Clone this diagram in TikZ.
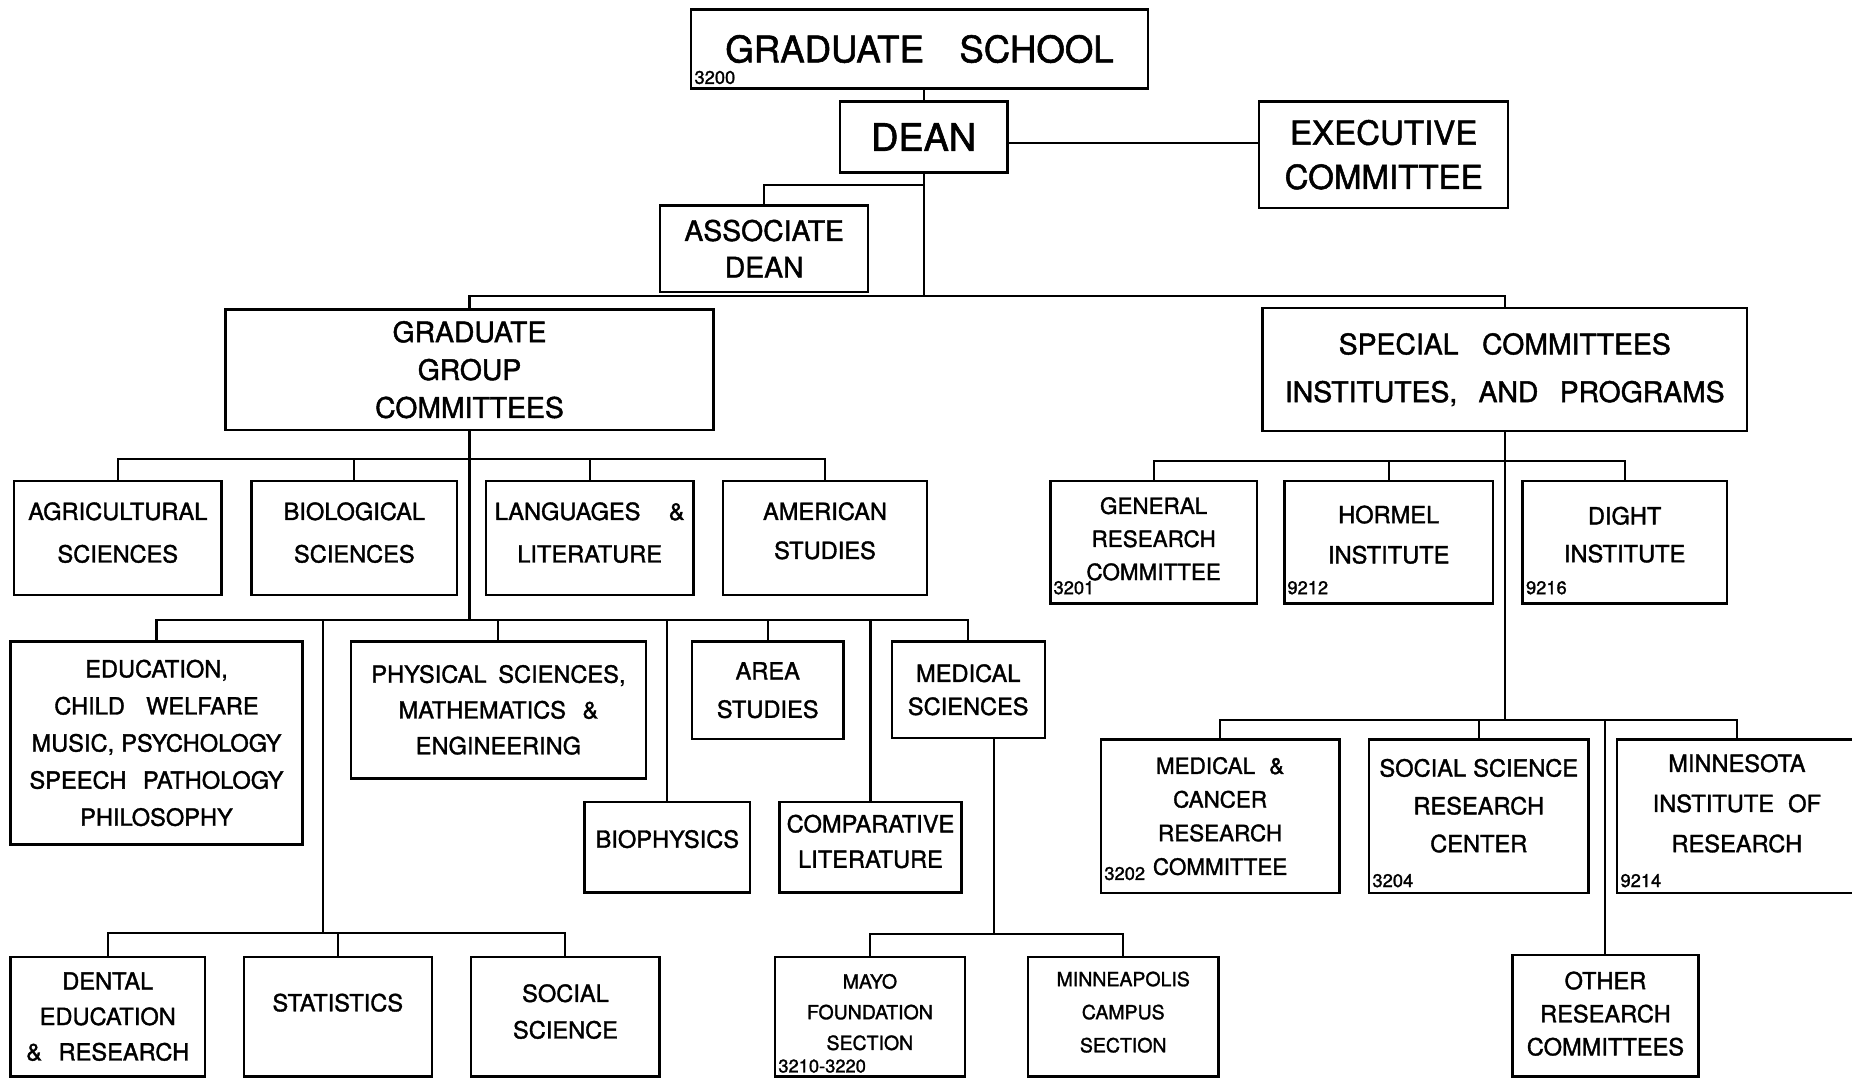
\documentclass[tikz,border=0pt]{standalone}
\usepackage{fontspec}
\setmainfont{TeX Gyre Heros}[UprightFeatures={FakeBold=1.5}]
\newcommand\setfs[2]{\fontsize{#1}{#2}\selectfont}
\newcommand\obox[7][]{%
  \node[box,#1,minimum width={(#5-#3)*1pt},minimum height={(#6-#4)*1pt}]
    (#2) at ({(#3+#5)/2},{(#4+#6)/2}) {#7};}
\tikzset{
  box/.style={draw,line width=2pt,inner sep=0pt,outer sep=0pt,align=center,
              font=\setfs{20}{31}},
  conn/.style={line width=1.7pt},
  code/.style={inner sep=0pt,outer sep=0pt,anchor=base west,font=\setfs{15.5}{16}}
}
\begin{document}
\begin{tikzpicture}[x=1pt,y=-1pt]
\useasboundingbox[fill=white] (0,0) rectangle (1568,913);
% top
\obox[font=\setfs{31}{36}]{gs}{585}{8}{972}{75}{GRADUATE\hspace{30pt}SCHOOL}
\obox[font=\setfs{32}{36}]{dean}{711}{86}{853}{146}{DEAN}
\obox[font=\setfs{28}{37.5}]{exec}{1066}{86}{1277}{176}{EXECUTIVE\\COMMITTEE}
\obox[font=\setfs{24}{31}]{assoc}{559}{174}{735}{247}{ASSOCIATE\\DEAN}
\obox[font=\setfs{24}{32}]{ggc}{191}{262}{604}{364}{GRADUATE\\GROUP\\COMMITTEES}
\obox[font=\setfs{24}{40.4}]{special}{1069}{261}{1479}{365}{SPECIAL\hspace{20pt}COMMITTEES\\INSTITUTES,\hspace{18pt}AND\hspace{18pt}PROGRAMS}
% row 2 left
\obox[font=\setfs{20}{36},text depth=9pt]{agri}{12}{407}{187.5}{503.5}{AGRICULTURAL\\SCIENCES}
\obox[font=\setfs{20}{36},text depth=9pt]{bio}{213}{407}{387}{503.5}{BIOLOGICAL\\SCIENCES}
\obox[font=\setfs{20}{36},text depth=9pt]{lang}{411.5}{407}{587}{503.5}{LANGUAGES\hspace{24pt}\&\\LITERATURE}
\obox[font=\setfs{20}{33},text depth=12pt]{amer}{612}{407}{785}{503.5}{AMERICAN\\STUDIES}
% row 3 left
\obox[font=\setfs{20}{31.4}]{edu}{9}{543}{256}{715}{EDUCATION,\\CHILD\hspace{18pt}WELFARE\\MUSIC,\hspace{6pt}PSYCHOLOGY\\SPEECH\hspace{14pt}PATHOLOGY\\PHILOSOPHY}
\obox[font=\setfs{20}{30.3}]{phys}{297}{543}{547}{659}{PHYSICAL\hspace{10pt}SCIENCES,\\MATHEMATICS\hspace{14pt}\&\\ENGINEERING}
\obox[font=\setfs{20}{32.5}]{area}{586}{543}{714}{625.7}{AREA\\STUDIES}
\obox[font=\setfs{20}{28}]{medsci}{755}{543}{884.5}{625}{MEDICAL\\SCIENCES}
\obox[text depth=14pt]{biophys}{495}{679}{635}{755.5}{BIOPHYSICS}
\obox[font=\setfs{20}{30},text depth=10pt]{comp}{660}{679}{814}{755.5}{COMPARATIVE\\LITERATURE}
% bottom left
\obox[font=\setfs{20}{30}]{dental}{9}{810}{173.5}{911.5}{DENTAL\\EDUCATION\\\&\hspace{14pt}RESEARCH}
\obox[text depth=24pt]{stat}{206.5}{810}{365.5}{911.5}{STATISTICS}
\obox[font=\setfs{20}{31},text depth=9pt]{social}{399}{810}{558.5}{911.5}{SOCIAL\\SCIENCE}
\obox[font=\setfs{16.5}{26},text depth=8pt]{mayo}{656}{810}{817}{911.5}{MAYO\\FOUNDATION\\SECTION}
\obox[font=\setfs{16.5}{28},text depth=8pt]{minn}{870.5}{810}{1031.5}{911.5}{MINNEAPOLIS\\CAMPUS\\SECTION}
% right
\obox[font=\setfs{19}{28},text depth=6pt]{gen}{889.5}{407}{1064}{511}{GENERAL\\RESEARCH\\COMMITTEE}
\obox[font=\setfs{20}{34},text depth=13pt]{hormel}{1087.5}{407}{1264}{511}{HORMEL\\INSTITUTE}
\obox[font=\setfs{20}{32},text depth=13pt]{dight}{1289}{407}{1462}{511}{DIGHT\\INSTITUTE}
\obox[font=\setfs{19}{28.5}]{medc}{932}{626}{1134}{756}{MEDICAL\hspace{12pt}\&\\CANCER\\RESEARCH\\COMMITTEE}
\obox[font=\setfs{20}{32},text depth=18pt]{ssrc}{1159}{626}{1345}{756}{SOCIAL\hspace{6pt}SCIENCE\\RESEARCH\\CENTER}
\obox[font=\setfs{20}{34},text depth=22pt]{minnres}{1369}{626}{1572}{756}{MINNESOTA\\INSTITUTE\hspace{12pt}OF\\RESEARCH}
\obox[font=\setfs{20}{28},text depth=4pt]{other}{1280.5}{808.6}{1438}{911.5}{OTHER\\RESEARCH\\COMMITTEES}
% codes
\node[code] (c3200) at (588,71) {3200};
\node[code] (c3201) at (892,503) {3201};
\node[code] (c9212) at (1090,503) {9212};
\node[code] (c9216) at (1292,503) {9216};
\node[code] (c3202) at (935,745) {3202};
\node[code] (c3204) at (1162,751) {3204};
\node[code] (c9214) at (1372,751) {9214};
\node[code] (c3210) at (659,908) {3210-3220};
% junction levels
\coordinate (ja) at (0,156.6);
\coordinate (bar1) at (0,250.6);
\coordinate (r2) at (0,388.6);
\coordinate (r3) at (0,525);
\coordinate (r4) at (0,789.7);
\coordinate (r4b) at (0,790.8);
\coordinate (r2r) at (0,390);
\coordinate (r3r) at (0,609.6);
\coordinate (tr) at (273.5,0);
\coordinate (ms) at (841.5,0);
\coordinate (ex) at (0,121);
% connectors top
\draw[conn] (gs.south -| dean.north) -- (dean.north);
\draw[conn] (dean.east |- ex) -- (exec.west |- ex);
\draw[conn] (dean.south) -- (dean.south |- bar1);
\draw[conn] (dean.south |- ja) -| (assoc.north);
\draw[conn] (ggc.north) |- (special.north |- bar1) -- (special.north);
% left tree
\draw[conn] (ggc.south) -- (ggc.south |- r3);
\draw[conn] (agri.north) |- (amer.north |- r2) -- (amer.north);
\draw[conn] (bio.north) -- (bio.north |- r2);
\draw[conn] (lang.north) -- (lang.north |- r2);
\draw[conn] (edu.north) |- (medsci.north |- r3) -- (medsci.north);
\draw[conn] (phys.north) -- (phys.north |- r3);
\draw[conn] (area.north) -- (area.north |- r3);
\draw[conn] (biophys.north) -- (biophys.north |- r3);
\draw[conn] (comp.north) -- (comp.north |- r3);
\draw[conn] (tr |- r3) -- (tr |- r4);
\draw[conn] (dental.north) |- (social.north |- r4) -- (social.north);
\draw[conn] (stat.north) -- (stat.north |- r4);
\draw[conn] (ms |- medsci.south) -- (ms |- r4b);
\draw[conn] (mayo.north) |- (minn.north |- r4b) -- (minn.north);
% right tree
\draw[conn] (special.south) -- (special.south |- r3r);
\draw[conn] (gen.north) |- (dight.north |- r2r) -- (dight.north);
\draw[conn] (hormel.north) -- (hormel.north |- r2r);
\draw[conn] (medc.north) |- (minnres.north |- r3r) -- (minnres.north);
\draw[conn] (ssrc.north) -- (ssrc.north |- r3r);
\draw[conn] (other.north) -- (other.north |- r3r);
\end{tikzpicture}
\end{document}
